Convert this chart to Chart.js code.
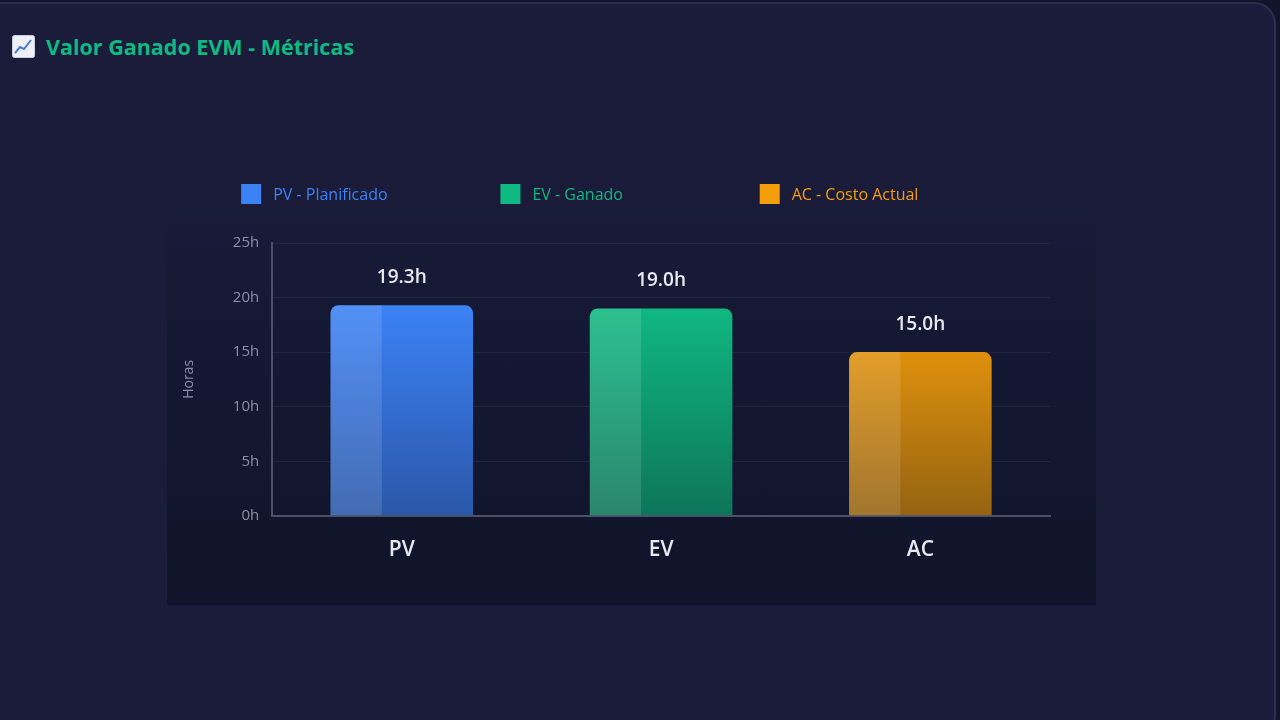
<!DOCTYPE html>
<html lang="es">
<head>
<meta charset="utf-8">
<title>Valor Ganado EVM - Métricas</title>
<script src="https://cdn.jsdelivr.net/npm/chart.js@4.4.1/dist/chart.umd.min.js"></script>
<style>
  html, body { margin: 0; padding: 0; background: #121429; width: 1280px; height: 720px; overflow: hidden; }
  body { font-family: "Open Sans", "Noto Sans", sans-serif; }
  .card {
    position: absolute; left: -20px; top: 2px; width: 1296px; height: 736px;
    background: #1a1c3a; border: 2px solid #2c2f52; border-radius: 22px; box-sizing: border-box;
  }
  .titulo {
    position: absolute; left: 12px; top: 32px; display: flex; align-items: center;
    color: #10b981; font-size: 21.5px; font-weight: 700;
  }
  .titulo svg { margin-right: 11px; }
  .panel {
    position: absolute; left: 167px; top: 168px; width: 929px; height: 437px;
    background: linear-gradient(180deg, #1a1c3a 0%, #151832 40%, #10142a 100%);
  }
</style>
</head>
<body>
<div class="card"></div>
<div class="titulo">
  <svg width="23" height="23" viewBox="0 0 23 23">
    <rect x="0.5" y="0.5" width="22" height="22" rx="2" fill="#eef0f6" stroke="#c9cde0"/>
    <polyline points="3,18 8,12 12,14 19,5" fill="none" stroke="#4a7bd8" stroke-width="2"/>
  </svg>
  <span>Valor Ganado EVM - Métricas</span>
</div>
<div class="panel"><canvas id="grafico" width="929" height="437"></canvas></div>

<script>
// datos
const categorias = ['PV', 'EV', 'AC'];
const leyendas = ['PV - Planificado', 'EV - Ganado', 'AC - Costo Actual'];
const horas = [19.3, 19.0, 15.0];
const ticksY = [0, 5, 10, 15, 20, 25];

const colores = ['#3b82f6', '#10b981', '#f59e0b'];
const coloresOscuros = ['#2a57a8', '#0d7559', '#946312'];
const fuente = '"Open Sans", sans-serif';

const ctx = document.getElementById('grafico');

function degradado(context) {
  const chart = context.chart;
  const area = chart.chartArea;
  const i = context.dataIndex;
  if (!area) return colores[i];
  const g = chart.ctx.createLinearGradient(0, area.top + 60, 0, area.bottom);
  g.addColorStop(0, colores[i]);
  g.addColorStop(1, coloresOscuros[i]);
  return g;
}

// franja clara a la izquierda de cada barra
const franja = {
  id: 'franja',
  afterDatasetsDraw(chart) {
    const c = chart.ctx;
    chart.getDatasetMeta(0).data.forEach(bar => {
      const w = bar.width;
      const x0 = bar.x - w / 2;
      c.save();
      c.fillStyle = 'rgba(255,255,255,0.12)';
      c.beginPath();
      c.roundRect(x0, bar.y, w * 0.36, bar.base - bar.y, [8, 0, 0, 0]);
      c.fill();
      c.restore();
    });
  }
};

// etiquetas de valor encima de las barras
const etiquetas = {
  id: 'etiquetas',
  afterDatasetsDraw(chart) {
    const c = chart.ctx;
    c.save();
    c.font = '600 19px ' + fuente;
    c.fillStyle = '#e8eaf0';
    c.textAlign = 'center';
    c.textBaseline = 'middle';
    chart.getDatasetMeta(0).data.forEach((bar, i) => {
      c.fillText(horas[i].toFixed(1) + 'h', bar.x, bar.y - 28);
    });
    c.restore();
  }
};

// leyenda: un elemento por categoria, alineado con su columna
const leyenda = {
  id: 'leyenda',
  afterDraw(chart) {
    const c = chart.ctx;
    const area = chart.chartArea;
    const paso = area.width / categorias.length;
    c.save();
    c.font = '16px ' + fuente;
    c.textBaseline = 'middle';
    leyendas.forEach((t, i) => {
      const x = area.left - 31 + i * paso;
      c.fillStyle = colores[i];
      c.fillRect(x, 16, 20, 20);
      c.fillText(t, x + 32, 27);
    });
    c.restore();
  }
};

new Chart(ctx, {
  type: 'bar',
  data: {
    labels: categorias,
    datasets: [{
      label: 'Horas',
      data: horas,
      backgroundColor: degradado,
      borderRadius: { topLeft: 8, topRight: 8 },
      borderSkipped: 'bottom',
      barPercentage: 0.55,
      categoryPercentage: 1
    }]
  },
  options: {
    responsive: false,
    animation: false,
    layout: { padding: { left: 10, right: 46, top: 75, bottom: 28 } },
    plugins: {
      tooltip: { enabled: false },
      legend: { display: false }
    },
    scales: {
      x: {
        grid: { display: false },
        border: { color: '#4b5068', width: 2 },
        ticks: {
          color: '#e8eaf0',
          padding: 14,
          font: { size: 21, weight: '600', family: fuente }
        }
      },
      y: {
        min: 0,
        max: 25,
        afterBuildTicks(axis) { axis.ticks = ticksY.map(v => ({ value: v })); },
        grid: { color: 'rgba(255,255,255,0.06)', drawTicks: false },
        border: { color: '#4b5068', width: 2 },
        ticks: {
          color: '#8a8fa6',
          padding: 13,
          font: { size: 15, family: fuente },
          callback: v => v + 'h'
        },
        title: {
          display: true,
          text: 'Horas',
          color: '#8a8fa6',
          padding: { top: 4, bottom: 22 },
          font: { size: 14, family: fuente }
        }
      }
    }
  },
  plugins: [franja, etiquetas, leyenda]
});
</script>
</body>
</html>
